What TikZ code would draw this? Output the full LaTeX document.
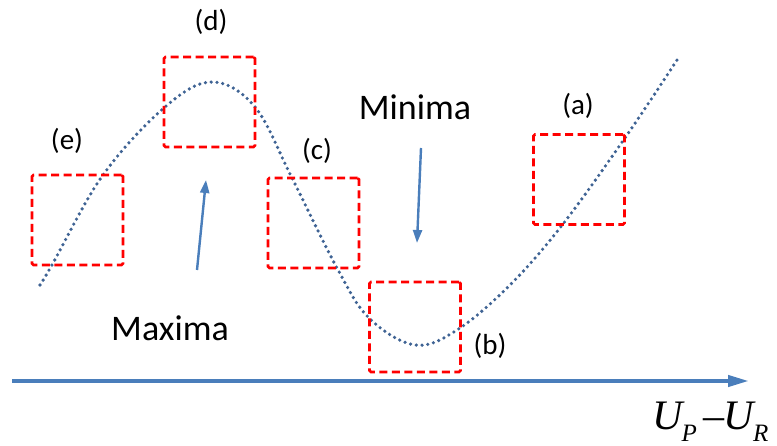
\documentclass[tikz,border=0pt]{standalone}
\usepackage{fontspec}
\setmainfont{Carlito}
\newfontfamily\timesfont{Liberation Serif}
\usetikzlibrary{arrows.meta}
\definecolor{axblue}{HTML}{4A7EBB}
\definecolor{curveblue}{HTML}{3F6394}
\begin{document}
\begin{tikzpicture}[x=1pt,y=-1pt,
  box/.style={draw=red, line width=2.6pt, dash pattern=on 8pt off 4.5pt, rounded corners=1.5pt, inner sep=0pt, minimum width=91pt, minimum height=90pt},
  lab/.style={font=\fontsize{29}{34}\selectfont, inner sep=0pt, anchor=base},
  big/.style={font=\fontsize{36}{42}\selectfont, inner sep=0pt, anchor=base},
  ptr/.style={draw=axblue, line width=2.4pt, -{Triangle[length=13pt,width=9pt]}},
  curve/.style={draw=curveblue, line width=3.6pt, line cap=round, dash pattern=on 0pt off 5.8pt}]
\useasboundingbox (0,0) rectangle (777,446);
% curve
\draw[curve] plot[smooth, tension=0.6] coordinates {(40,285) (52,265) (103,175) (165,107) (212,82) (255,107) (292,178) (337,268) (369,318) (415,345) (457,330) (510,285) (563,224) (627,135) (679,57)};
% boxes
\node[box] (be) at (77.5,220) {};
\node[box] (bd) at (209.5,102) {};
\node[box] (bc) at (313.5,223) {};
\node[box] (bb) at (415,327) {};
\node[box] (ba) at (579,179.5) {};
% labels
\node[lab] (le) at (67,150) {(e)};
\node[lab] (ld) at (211,31) {(d)};
\node[lab] (lc) at (317,160) {(c)};
\node[lab] (lb) at (490,355) {(b)};
\node[lab] (la) at (578,115) {(a)};
\node[big] (max) at (170,341) {Maxima};
\node[big] (min) at (415,120) {Minima};
% pointer arrows
\coordinate (maxtail) at (197,270);
\coordinate (maxtip) at (206,180);
\coordinate (mintail) at (421,148);
\coordinate (mintip) at (417,243);
\draw[ptr] (maxtail) -- (maxtip);
\draw[ptr] (mintail) -- (mintip);
% axis
\coordinate (ax0) at (12,381);
\coordinate (ax1) at (749,381);
\draw[draw=axblue, line width=4pt, -{Triangle[length=21pt,width=11pt]}] (ax0) -- (ax1);
\node[inner sep=0pt, anchor=base west, font=\timesfont\itshape\fontsize{42}{46}\selectfont] (axl) at (652,430) {U\kern-1pt\raisebox{-12pt}{\fontsize{25}{28}\selectfont P}\kern7pt–\kern-1pt U\kern-1pt\raisebox{-12pt}{\fontsize{25}{28}\selectfont R}};
\end{tikzpicture}
\end{document}
